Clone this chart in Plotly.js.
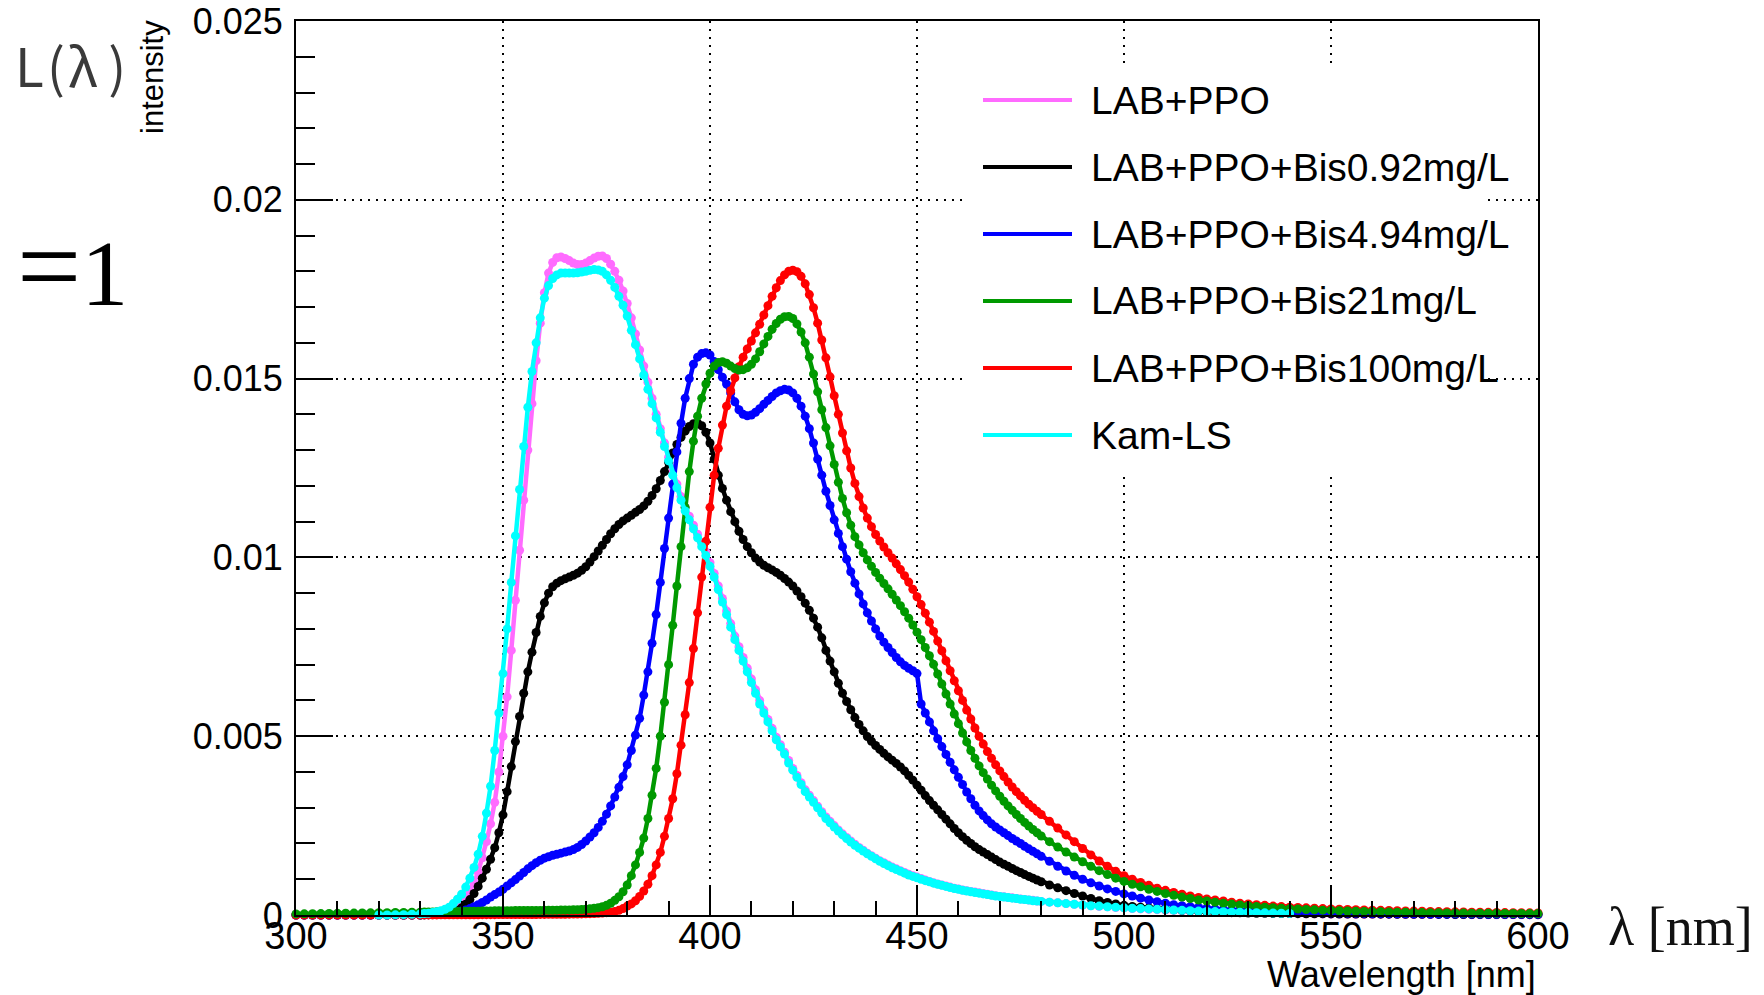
<!DOCTYPE html>
<html><head><meta charset="utf-8">
<script src="https://cdn.plot.ly/plotly-3.0.1.min.js"></script>
<style>html,body{margin:0;padding:0;background:#fff;}#chart{width:1764px;height:995px;}</style>
</head><body><div id="chart"></div>
<script>
// wavelength grid [nm]
const wavelength = [
300,302,304,306,308,310,312,314,316,318,320,322,324,326,328,330,
331,332,333,334,335,336,337,338,339,340,
341,342,343,344,345,346,347,348,349,350,
351,352,353,354,355,356,357,358,359,360,
361,362,363,364,365,366,367,368,369,370,
371,372,373,374,375,376,377,378,379,380,
381,382,383,384,385,386,387,388,389,390,
391,392,393,394,395,396,397,398,399,400,
401,402,403,404,405,406,407,408,409,410,
411,412,413,414,415,416,417,418,419,420,
421,422,423,424,425,426,427,428,429,430,
431,432,433,434,435,436,437,438,439,440,
441,442,443,444,445,446,447,448,449,450,
451,452,453,454,455,456,457,458,459,460,
461,462,463,464,465,466,467,468,469,470,
471,472,473,474,475,476,477,478,479,480,
482,484,486,488,490,492,494,496,498,500,
502,504,506,508,510,512,514,516,518,520,
522,524,526,528,530,532,534,536,538,540,
542,544,546,548,550,552,554,556,558,560,
562,564,566,568,570,572,574,576,578,580,
582,584,586,588,590,592,594,596,598,600];

// intensities in units of 1e-4
const labPPO = [
0,0,0,0,0,0,0,0,0,0,0,0,0,0,0.05,0.1,
0.15,0.2,0.3,0.4,0.6,0.8,1.2,1.7,2.5,3.5,
5,6.8,9,12,16,20.5,25.5,31.5,40,50,
61,74,88,102,116,130,143,155,165.5,174,
179.5,182.5,183.8,184,183.6,183,182.3,181.9,181.9,182.3,
183,183.7,184.2,184.3,183.6,182,180,177.5,174.5,171,
167,162.5,158,153.5,149,144.5,140,136,132,128,
124,120.5,117,114,111.5,109,106.5,104,101.5,98.5,
95.5,92,88.5,85,81.5,78,75,72,69,66,
63,60,57.3,54.7,52.2,49.7,47.6,45.5,43.2,41,
39,37,35,33.5,32,30.4,28.9,27.4,26.2,25,
23.8,22.7,21.7,20.7,19.8,18.9,18.1,17.3,16.6,15.9,
15.2,14.6,14,13.4,12.9,12.4,11.9,11.4,11,10.6,
10.2,9.8,9.4,9,8.7,8.4,8.1,7.8,7.5,7.3,
7,6.8,6.6,6.4,6.2,6,5.8,5.6,5.4,5.2,
5.1,4.9,4.8,4.6,4.5,4.3,4.2,4.1,3.9,3.8,
3.6,3.4,3.2,3,2.8,2.6,2.4,2.3,2.1,2,
1.8,1.7,1.6,1.5,1.4,1.3,1.2,1.1,1,0.95,
0.9,0.8,0.75,0.7,0.65,0.6,0.55,0.5,0.45,0.4,
0.38,0.35,0.32,0.3,0.28,0.26,0.24,0.22,0.2,0.19,
0.18,0.17,0.16,0.15,0.14,0.13,0.12,0.12,0.11,0.1,
0.1,0.09,0.09,0.08,0.08,0.07,0.07,0.06,0.06,0.05];

const bis092 = [
0,0,0,0,0,0,0,0,0,0,0,0,0,0,0,0,
0.05,0.1,0.15,0.2,0.3,0.4,0.6,0.9,1.3,2,
3,4.3,6,8,10.3,12.8,15.6,18.8,23,28,
34.5,41.5,48.5,55.5,62,68,73.5,79,83.5,87.3,
90,91.8,92.8,93.5,94,94.5,95,95.6,96.4,97.4,
98.7,100.2,101.8,103.4,105,106.6,108,109.2,110.2,111,
111.8,112.6,113.4,114.4,115.7,117.3,119.2,121.5,124,126.6,
129.2,131.6,133.6,135.3,136.6,137.4,137.6,136.8,135,132,
127.5,123,119.3,116,112.8,110,107.3,105,103,101.3,
99.8,98.7,97.8,97.1,96.5,95.8,95,94.1,93.1,92,
90.6,89,87.2,85.2,83,80.5,77.5,74,71,68,
64.8,62,59.7,57.4,55.2,53.3,51.5,49.9,48.6,47.4,
46.3,45.2,44.2,43.3,42.4,41.4,40.3,39,37.7,36.3,
34.9,33.4,32,30.7,29.4,28.1,26.8,25.5,24.2,23,
21.9,20.9,20,19.1,18.3,17.6,16.9,16.2,15.5,14.8,
14.2,13.6,13,12.4,11.9,11.3,10.8,10.3,9.8,9.3,
8.4,7.6,6.8,6,5.3,4.6,4,3.5,3.1,2.7,
2.4,2.2,2,1.8,1.6,1.45,1.3,1.15,1,0.9,
0.8,0.72,0.65,0.6,0.55,0.5,0.47,0.44,0.42,0.4,
0.38,0.36,0.34,0.32,0.3,0.29,0.28,0.27,0.26,0.25,
0.24,0.23,0.22,0.21,0.2,0.19,0.18,0.17,0.16,0.15,
0.15,0.14,0.14,0.13,0.12,0.12,0.11,0.11,0.1,0.1];

const bis494 = [
0,0,0,0,0,0,0,0,0,0,0,0,0,0,0,0,
0.05,0.1,0.15,0.2,0.3,0.4,0.5,0.7,0.9,1.1,
1.4,1.8,2.3,2.9,3.5,4.2,5,5.7,6.4,7.2,
8.1,9,9.9,10.9,11.9,12.9,13.8,14.6,15.3,15.9,
16.3,16.7,17,17.3,17.6,17.9,18.3,18.9,19.7,20.7,
21.8,23,24.5,26.2,28.2,30.5,33,35.7,38.7,42,
46,50.3,55,61.5,68,76,84,93,102.5,111,
120.5,129.5,137.5,144.5,150,154,156,157,157.2,156.6,
154.8,152.5,150.4,148.5,146,143.5,141.3,140,139.6,139.8,
140.6,141.6,142.8,143.9,145,146,146.6,147,146.8,146,
144.5,142.3,139.5,136,132,127.5,123,118.5,114.5,110.5,
106.7,103,99.5,96,92.8,89.8,87,84.5,82.2,80,
78,76.3,74.8,73.4,72,70.8,69.8,69,68.3,67.5,
59,56.5,54,51.5,49.3,47.1,44.9,42.7,40.6,38.5,
36.5,34.4,32.5,30.7,29.1,27.8,26.6,25.5,24.6,23.8,
23,22.2,21.4,20.7,20,19.2,18.5,17.8,17.1,16.4,
15,13.6,12.3,11.1,10,9,8.1,7.3,6.6,5.9,
5.3,4.7,4.2,3.7,3.3,2.9,2.6,2.3,2.1,1.9,
1.7,1.55,1.45,1.35,1.25,1.15,1.05,0.97,0.9,0.83,
0.77,0.72,0.67,0.62,0.58,0.54,0.5,0.47,0.44,0.41,
0.39,0.37,0.35,0.33,0.31,0.3,0.29,0.28,0.27,0.26,
0.25,0.24,0.23,0.22,0.21,0.2,0.2,0.19,0.19,0.18];

const bis21 = [
0.3,0.33,0.36,0.4,0.43,0.46,0.5,0.53,0.56,0.6,0.63,0.66,0.7,0.73,0.76,0.8,
0.82,0.84,0.86,0.88,0.9,0.92,0.94,0.96,0.98,1,
1.02,1.04,1.06,1.08,1.1,1.12,1.14,1.16,1.18,1.2,
1.21,1.22,1.23,1.24,1.25,1.26,1.27,1.28,1.29,1.3,
1.32,1.34,1.36,1.38,1.4,1.43,1.46,1.5,1.55,1.62,
1.72,1.86,2.05,2.3,2.7,3.3,4.1,5.1,6.5,8.4,
11,14,17.5,21.5,27,33.5,41,50,59.5,70,
81,92,103,114,124,132.5,139.5,144.5,148.5,151.5,
153.5,154.5,154.7,154.3,153.5,152.8,152.4,152.5,153,154,
155.5,157.5,159.7,161.8,163.8,165.4,166.6,167.3,167.4,166.8,
165.3,163,160,156,151.3,146.3,141.3,136.3,131.2,126,
121,116.5,112.5,109,105.8,103.5,101.3,99.3,97.5,95.8,
94.2,92.7,91.2,89.7,88.1,86.5,84.8,83,81.1,79.1,
77,74.8,72.5,70.1,67.4,64.6,61.8,59,56.2,53.5,
50.9,48.4,46,43.8,41.7,39.8,38,36.3,34.7,33.2,
31.8,30.5,29.3,28.1,27,25.9,24.9,23.9,23,22.1,
20.5,19,17.6,16.2,14.9,13.6,12.4,11.3,10.3,9.4,
8.6,7.9,7.2,6.6,6,5.5,5,4.6,4.2,3.9,
3.6,3.3,3.05,2.8,2.6,2.4,2.2,2.05,1.9,1.75,
1.65,1.55,1.45,1.36,1.28,1.2,1.13,1.06,1,0.95,
0.9,0.85,0.8,0.76,0.72,0.68,0.65,0.62,0.59,0.56,
0.54,0.52,0.5,0.48,0.46,0.44,0.42,0.41,0.4,0.39];

const bis100 = [
0,0,0,0,0,0,0,0,0,0,0,0,0,0,0.01,0.01,
0.02,0.02,0.03,0.03,0.04,0.04,0.05,0.05,0.06,0.06,
0.07,0.07,0.08,0.08,0.09,0.09,0.1,0.1,0.11,0.11,
0.12,0.12,0.13,0.13,0.14,0.14,0.15,0.15,0.16,0.17,
0.18,0.19,0.2,0.21,0.22,0.24,0.26,0.28,0.3,0.33,
0.37,0.42,0.48,0.55,0.65,0.8,1,1.3,1.8,2.5,
3.1,4,5.2,6.7,8.6,11,14,17.5,22,27,
32.5,39.5,47.5,56,65,74.5,84.5,94.5,104.5,114,
123,130.5,137,142.3,146.6,150.2,153.3,156,158.3,160.5,
162.8,165.2,167.8,170.4,173,175.4,177.4,179,180,180.3,
179.9,178.6,176.5,173.5,169.8,165.5,160.8,155.8,150.5,145.2,
140,134.8,129.8,125,120.7,117,113.8,111,108.6,106.4,
104.6,102.9,101.3,99.8,98.2,96.6,94.9,93.1,91.1,89,
86.8,84.4,81.9,79.3,76.6,73.9,71.1,68.3,65.5,62.7,
60,57.3,54.8,52.3,50,47.8,45.7,43.8,42,40.3,
38.7,37.2,35.8,34.5,33.3,32.1,31,30,29,28.1,
26.2,24.3,22.4,20.5,18.6,16.8,15.1,13.6,12.2,11,
10,9.1,8.3,7.5,6.9,6.3,5.8,5.3,4.9,4.5,
4.2,3.9,3.6,3.3,3.1,2.9,2.7,2.5,2.35,2.2,
2.1,2,1.9,1.8,1.7,1.62,1.55,1.48,1.42,1.35,
1.3,1.25,1.2,1.15,1.1,1.05,1,0.96,0.92,0.88,
0.84,0.8,0.77,0.74,0.71,0.68,0.65,0.62,0.6,0.58];

const kamLS = [
null,null,null,null,null,null,null,null,null,null,0,0,0.05,0.1,0.2,0.3,
0.4,0.5,0.7,0.9,1.2,1.6,2.2,3.2,4.4,5.8,
7.8,10.3,13.3,17,22,28.5,36,46,56.5,67.5,
80,93,106,119,131,142,152,160,167,172.5,
176,178,179,179.5,179.5,179.5,179.5,179.6,179.8,180,
180.3,180.5,180.4,180,179,177.5,175.5,173,170.5,167.5,
163.5,159.5,155.5,151,147,143,139,135,131,127,
123,119.5,116,113,110.5,108,105.5,103,100.5,97.5,
94.5,91,87.5,84,80.5,77,74,71,68,65,
62,59,56.5,54,51.5,49,47,45,42.5,40.5,
38.5,36.5,34.5,33,31.5,30,28.5,27,25.8,24.6,
23.5,22.4,21.4,20.4,19.5,18.7,17.9,17.1,16.4,15.7,
15,14.4,13.8,13.2,12.7,12.2,11.7,11.2,10.8,10.4,
10,9.6,9.3,8.9,8.6,8.3,8,7.7,7.4,7.2,
6.9,6.7,6.5,6.3,6.1,5.9,5.7,5.5,5.3,5.2,
5,4.9,4.7,4.6,4.4,4.3,4.2,4,3.9,3.8,
3.6,3.4,3.2,3,2.8,2.6,2.5,2.3,2.2,2,
1.9,1.8,1.7,1.6,1.5,1.4,1.3,1.2,1.1,1,
0.95,0.9,0.8,0.75,0.7,0.65,0.6,0.55,0.5,0.45,
null,null,null,null,null,null,null,null,null,null,
null,null,null,null,null,null,null,null,null,null,
null,null,null,null,null,null,null,null,null,null];

const seriesNames = ['LAB+PPO','LAB+PPO+Bis0.92mg/L','LAB+PPO+Bis4.94mg/L','LAB+PPO+Bis21mg/L','LAB+PPO+Bis100mg/L','Kam-LS'];
const seriesData = [labPPO, bis092, bis494, bis21, bis100, kamLS];
const seriesColors = ['#ff6bff','#000000','#0000ff','#009900','#ff0000','#00ffff'];
const drawOrder = [0,1,2,4,3,5];

const yTickVals = [0,0.005,0.01,0.015,0.02,0.025];
const yTickText = ['0','0.005','0.01','0.015','0.02','0.025'];
const xTickVals = [300,350,400,450,500,550,600];
const xTickText = ['300','350','400','450','500','550','600'];

const UNIT = 1e-4;
const SANS = 'Liberation Sans, Arial, Helvetica, sans-serif';
const SERIF = 'Liberation Serif, Times New Roman, serif';

const traces = drawOrder.map(i => ({
  type: 'scatter', mode: 'lines+markers',
  x: wavelength,
  y: seriesData[i].map(v => v === null ? null : v * UNIT),
  name: seriesNames[i],
  line: {color: seriesColors[i], width: 4.5},
  marker: {color: seriesColors[i], size: 9, symbol: 'circle'},
  cliponaxis: false, showlegend: false, hoverinfo: 'skip'
}));

// custom legend (ROOT style: long line samples, white box)
const plotL = 296, plotR = 1538, plotT = 21, plotB = 915;
const px = x => (x - plotL) / (plotR - plotL);
const py = y => (plotB - y) / (plotB - plotT);
const legendRows = [100, 167, 234, 301, 368, 435];

const shapes = [{type:'rect', xref:'paper', yref:'paper', x0:px(966), x1:px(1486), y0:py(472), y1:py(67),
  fillcolor:'#ffffff', line:{width:0}, layer:'above'}];
const annotations = [];
seriesNames.forEach((name, i) => {
  shapes.push({type:'line', xref:'paper', yref:'paper', x0:px(983), x1:px(1072), y0:py(legendRows[i]), y1:py(legendRows[i]),
    line:{color: seriesColors[i], width:4}, layer:'above'});
  annotations.push({xref:'paper', yref:'paper', x:px(1089), y:py(legendRows[i]), xanchor:'left', yanchor:'middle',
    text:name, showarrow:false, font:{family:SANS, size:39, color:'#000'}});
});
annotations.push(
  {xref:'paper', yref:'paper', x:1, y:py(975), xanchor:'right', yanchor:'middle', text:'Wavelength [nm]', showarrow:false,
   font:{family:SANS, size:36, color:'#000'}},
  {xref:'paper', yref:'paper', x:px(1606), y:py(927), xanchor:'left', yanchor:'middle', text:'λ [nm]', showarrow:false,
   font:{family:SERIF, size:54, color:'#111'}},
  {xref:'paper', yref:'paper', x:px(153), y:py(77), xanchor:'center', yanchor:'middle', text:'intensity', textangle:-90, showarrow:false,
   font:{family:SANS, size:31, color:'#000'}},
  {xref:'paper', yref:'paper', x:px(13), y:py(64), xanchor:'left', yanchor:'middle', text:'L\u200A(\u200Aλ\u2009)', showarrow:false,
   font:{family:'Noto Sans CJK JP, Noto Sans, sans-serif', size:53, color:'#3a3a3a'}},
  {xref:'paper', yref:'paper', x:px(15), y:py(266), xanchor:'left', yanchor:'middle',
   text:'<span style="font-size:114px">=</span>1', showarrow:false,
   font:{family:SERIF, size:94, color:'#000'}}
);

const axisCommon = {
  showline:true, linecolor:'#000', linewidth:2, mirror:true,
  ticks:'inside', tickcolor:'#000', tickwidth:2,
  showgrid:true, gridcolor:'#000', gridwidth:2, griddash:'2px,6px',
  zeroline:false, tickmode:'array'
};

const layout = {
  width:1764, height:995,
  margin:{l:plotL, r:1764-plotR, t:plotT, b:995-plotB, pad:0},
  paper_bgcolor:'#fff', plot_bgcolor:'#fff',
  showlegend:false,
  xaxis: Object.assign({}, axisCommon, {
    range:[300,600], tickvals:xTickVals, ticktext:xTickText, ticklen:28,
    tickfont:{family:SANS, size:38, color:'#000'}, ticklabelstandoff:-14,
    minor:{tickmode:'linear', tick0:300, dtick:10, ticks:'inside', ticklen:14, tickwidth:2, tickcolor:'#000', showgrid:false}
  }),
  yaxis: Object.assign({}, axisCommon, {
    range:[0,0.025], tickvals:yTickVals, ticktext:yTickText, ticklen:37,
    tickfont:{family:SANS, size:36, color:'#000'}, ticklabelstandoff:4,
    minor:{tickmode:'linear', tick0:0, dtick:0.001, ticks:'inside', ticklen:19, tickwidth:2, tickcolor:'#000', showgrid:false}
  }),
  shapes: shapes,
  annotations: annotations
};

Plotly.newPlot('chart', traces, layout, {staticPlot:true, displayModeBar:false});
</script>
</body></html>
